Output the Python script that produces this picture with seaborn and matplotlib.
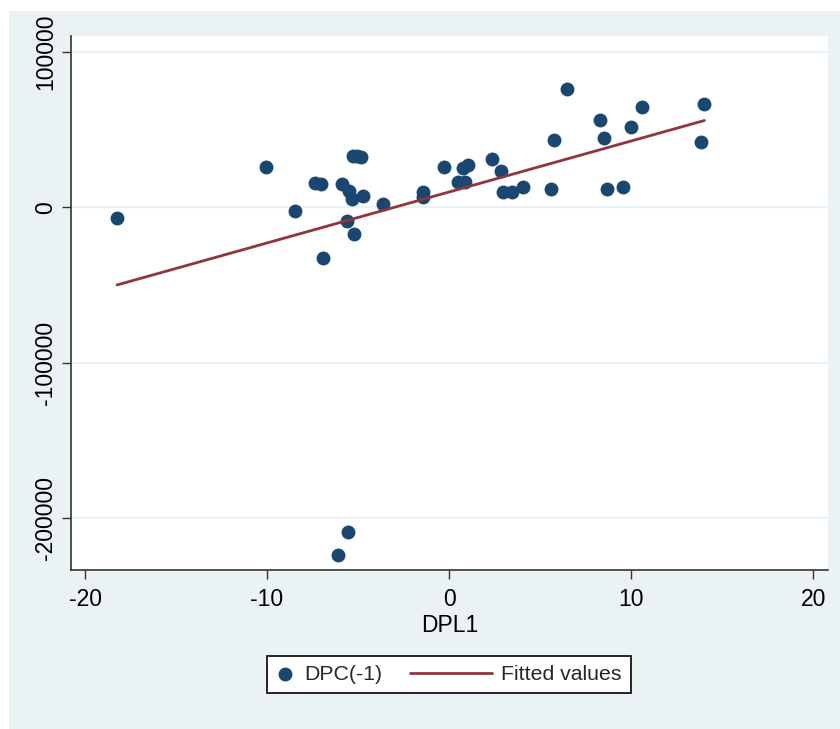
import numpy as np
import pandas as pd
import matplotlib
matplotlib.use("Agg")
import matplotlib.pyplot as plt
import seaborn as sns
from matplotlib.path import Path
from matplotlib.patches import Rectangle
from matplotlib.lines import Line2D
from matplotlib.legend_handler import HandlerLine2D

# ---- data ----
dpl1 = [-18.24, -10.07, -8.46, -7.36, -7.03, -6.92, -6.12, -5.86, -5.59, -5.57,
        -5.49, -5.33, -5.29, -5.07, -4.84, -5.24, -4.73, -3.64, -1.41, -1.41,
        -0.26, 0.51, 0.88, 0.79, 1.03, 2.36, 2.84, 2.98, 3.46, 4.07,
        5.59, 5.75, 6.50, 8.32, 8.54, 8.66, 9.56, 10.02, 10.60, 13.83, 14.03]
dpc_lag = [-6570, 26270, -2250, 15580, 15130, -32300, -223770, 14940, -8690, -208770,
           10820, 5280, 33360, 33160, 32710, -17260, 7400, 2060, 10170, 6950,
           26080, 16230, 16610, 25630, 27560, 31040, 23700, 9980, 9980, 13390,
           11720, 43660, 76110, 56540, 44750, 11720, 13200, 51640, 64520, 41980, 66650]
x_ticks = [-20, -10, 0, 10, 20]
y_ticks = [-200000, -100000, 0, 100000]
x_label = "DPL1"
scatter_label = "DPC(-1)"
fit_label = "Fitted values"

df = pd.DataFrame({"DPL1": dpl1, "DPC": dpc_lag})

# ---- style ----
BG = "#EAF2F3"
NAVY = "#1A476F"
MAROON = "#90353B"

sns.set_theme(style="white")
plt.rcParams["font.family"] = ["Liberation Sans", "DejaVu Sans"]

W, H = 840, 729
fig = plt.figure(figsize=(W / 100, H / 100), dpi=100, facecolor="white")
fig.patches.append(Rectangle((9 / W, 0), 1 - 9 / W, 1 - 11 / H, transform=fig.transFigure,
                             facecolor=BG, edgecolor="none", zorder=-1))

ax = fig.add_axes([71 / W, 1 - 570 / H, (828 - 71) / W, (570 - 36) / H])
ax.set_facecolor("white")

circ = Path.unit_circle()
ell = Path(circ.vertices * np.array([0.78, 1.0]), circ.codes)

sns.regplot(data=df, x="DPL1", y="DPC", ax=ax, ci=None, label=scatter_label,
            scatter_kws={"marker": ell, "s": 100, "color": NAVY, "alpha": 1,
                         "linewidths": 0, "zorder": 3},
            line_kws={"color": MAROON, "lw": 2.0, "label": fit_label, "zorder": 4})

ax.set_xlim(-20.77, 20.82)
ax.set_ylim(-233400, 110400)
ax.set_xticks(x_ticks, labels=[str(v) for v in x_ticks])
ax.set_yticks(y_ticks, labels=[str(v) for v in y_ticks])

ax.grid(False)
for v in y_ticks:
    ax.axhline(v, color=BG, lw=1.6, zorder=1)

for s in ["top", "right"]:
    ax.spines[s].set_visible(False)
for s in ["left", "bottom"]:
    ax.spines[s].set_color("#333333")
    ax.spines[s].set_linewidth(1.2)

ax.tick_params(axis="both", direction="out", length=6.8, width=1.0, color="#333333",
               labelsize=16.5, labelcolor="black", left=True, bottom=True)
ax.tick_params(axis="y", pad=3, labelrotation=90)
ax.tick_params(axis="x", pad=6)
for lab in ax.get_yticklabels():
    lab.set_va("center")

ax.set_xlabel(x_label, fontsize=16.5, color="black", labelpad=2)
ax.set_ylabel("")


class LongLineHandler(HandlerLine2D):
    def legend_artist(self, legend, orig_handle, fontsize, handlebox):
        handlebox.width = 3.85 * fontsize
        return super().legend_artist(legend, orig_handle, fontsize, handlebox)


handles, labels = ax.get_legend_handles_labels()
leg = fig.legend(handles, labels, loc="center", bbox_to_anchor=(449 / W, 1 - 674.5 / H),
                 ncol=2, frameon=True, fancybox=False, edgecolor="black", facecolor="white",
                 framealpha=1, fontsize=15.3, handlelength=0.85, handletextpad=0.45,
                 columnspacing=1.3, borderpad=0.42, borderaxespad=0, scatterpoints=1,
                 handler_map={Line2D: LongLineHandler()})
leg.get_frame().set_linewidth(1.2)

fig.savefig("out.png", dpi=100, facecolor="white")
